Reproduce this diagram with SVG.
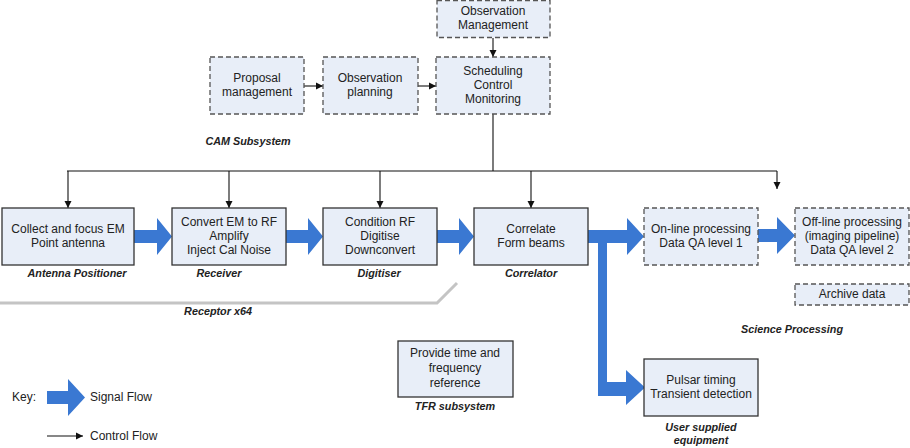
<svg xmlns="http://www.w3.org/2000/svg" width="910" height="448" viewBox="0 0 910 448">
<defs>
<style>
text{font-family:"Liberation Sans",Arial,sans-serif;font-size:12px;fill:#222;text-anchor:middle}
.lbl{font-weight:bold;font-style:italic;font-size:10.8px}
.hw{fill:#E8EEF8;stroke:#333;stroke-width:1.3}
.sw{fill:#E8EEF8;stroke:#555;stroke-width:1.3;stroke-dasharray:5,3}
.ctl{fill:none;stroke:#111;stroke-width:1.1}
.sig{fill:#3A78D2}
</style>
<marker id="ah" markerWidth="8" markerHeight="8" refX="7" refY="4" orient="auto" markerUnits="userSpaceOnUse">
<path d="M0,0.5 L7,4 L0,7.5 Z" fill="#111"/>
</marker>
</defs>
<rect width="910" height="448" fill="#fff"/>

<g id="connectors">
<path class="ctl" d="M493,38 V57" marker-end="url(#ah)"/>
<path class="ctl" d="M304,86 H323" marker-end="url(#ah)"/>
<path class="ctl" d="M418,86 H436" marker-end="url(#ah)"/>
<path class="ctl" d="M493,114 V171 M67,171 H777"/>
<path class="ctl" d="M68,171 V208" marker-end="url(#ah)"/>
<path class="ctl" d="M229,171 V208" marker-end="url(#ah)"/>
<path class="ctl" d="M380,171 V208" marker-end="url(#ah)"/>
<path class="ctl" d="M531,171 V208" marker-end="url(#ah)"/>
<path class="ctl" d="M777,171 V189" marker-end="url(#ah)"/>
<path class="sig" d="M134,230 H157 V218 L172,236.5 L157,255 V243 H134 Z"/>
<path class="sig" d="M286,230 H308 V218 L323,236.5 L308,255 V243 H286 Z"/>
<path class="sig" d="M437,230 H459 V218 L474,236.5 L459,255 V243 H437 Z"/>
<path class="sig" d="M588,230 H627 V218 L644,236.5 L627,255 V243 H607 V382 H626 V370 L645,387.5 L626,405 V396 H598 V243 H588 Z"/>
<path class="sig" d="M758,229 H777 V217 L795,235.5 L777,254 V242 H758 Z"/>
<path d="M0,303 H437 L457,283" fill="none" stroke="#C4C4C4" stroke-width="3"/>
</g>

<g id="obs-mgmt"><rect class="sw" x="437" y="0.5" width="113" height="37"/><text x="493" y="15">Observation</text><text x="493" y="29">Management</text></g>
<g id="proposal"><rect class="sw" x="210" y="57" width="94" height="57"/><text x="257" y="82">Proposal</text><text x="257" y="96">management</text></g>
<g id="obs-plan"><rect class="sw" x="323" y="57" width="95" height="57"/><text x="370" y="82">Observation</text><text x="370" y="96">planning</text></g>
<g id="sched"><rect class="sw" x="436" y="57" width="114" height="57"/><text x="493" y="75">Scheduling</text><text x="493" y="89">Control</text><text x="493" y="103">Monitoring</text></g>
<g id="cam-label"><text class="lbl" x="248" y="145">CAM Subsystem</text></g>

<g id="antenna"><rect class="hw" x="2" y="208" width="132" height="57"/><text x="68" y="233">Collect and focus EM</text><text x="68" y="247">Point antenna</text><text class="lbl" x="77" y="277">Antenna Positioner</text></g>
<g id="receiver"><rect class="hw" x="172" y="208" width="114" height="57"/><text x="229" y="226">Convert EM to RF</text><text x="229" y="240">Amplify</text><text x="229" y="254">Inject Cal Noise</text><text class="lbl" x="219" y="277">Receiver</text></g>
<g id="digitiser"><rect class="hw" x="323" y="208" width="114" height="57"/><text x="380" y="226">Condition RF</text><text x="380" y="240">Digitise</text><text x="380" y="254">Downconvert</text><text class="lbl" x="379" y="277">Digitiser</text></g>
<g id="correlator"><rect class="hw" x="474" y="208" width="114" height="57"/><text x="531" y="233">Correlate</text><text x="531" y="247">Form beams</text><text class="lbl" x="531" y="277">Correlator</text></g>
<g id="online"><rect class="sw" x="644" y="208" width="114" height="57"/><text x="701" y="233">On-line processing</text><text x="701" y="247">Data QA level 1</text></g>
<g id="offline"><rect class="sw" x="795" y="208" width="114" height="57"/><text x="852" y="226">Off-line processing</text><text x="852" y="240">(imaging pipeline)</text><text x="852" y="254">Data QA level 2</text></g>
<g id="archive"><rect class="sw" x="795" y="284" width="114" height="21"/><text x="852" y="298">Archive data</text></g>
<g id="sci-label"><text class="lbl" x="792" y="333">Science Processing</text></g>
<g id="receptor-label"><text class="lbl" x="218" y="315">Receptor x64</text></g>
<g id="tfr"><rect class="hw" x="398" y="341" width="115" height="56"/><text x="455" y="357">Provide time and</text><text x="455" y="372">frequency</text><text x="455" y="387">reference</text><text class="lbl" x="455" y="410">TFR subsystem</text></g>
<g id="pulsar"><rect class="hw" x="644" y="359" width="114" height="57"/><text x="701" y="384">Pulsar timing</text><text x="701" y="398">Transient detection</text><text class="lbl" x="701" y="431">User supplied</text><text class="lbl" x="701" y="444">equipment</text></g>

<g id="key">
<text x="12" y="401" style="text-anchor:start">Key:</text>
<path class="sig" d="M47,391 H68 V379 L85,397.5 L68,416 V404 H47 Z"/>
<text x="90" y="401" style="text-anchor:start">Signal Flow</text>
<path class="ctl" d="M47,436 H83" marker-end="url(#ah)"/>
<text x="90" y="440" style="text-anchor:start">Control Flow</text>
</g>
</svg>
